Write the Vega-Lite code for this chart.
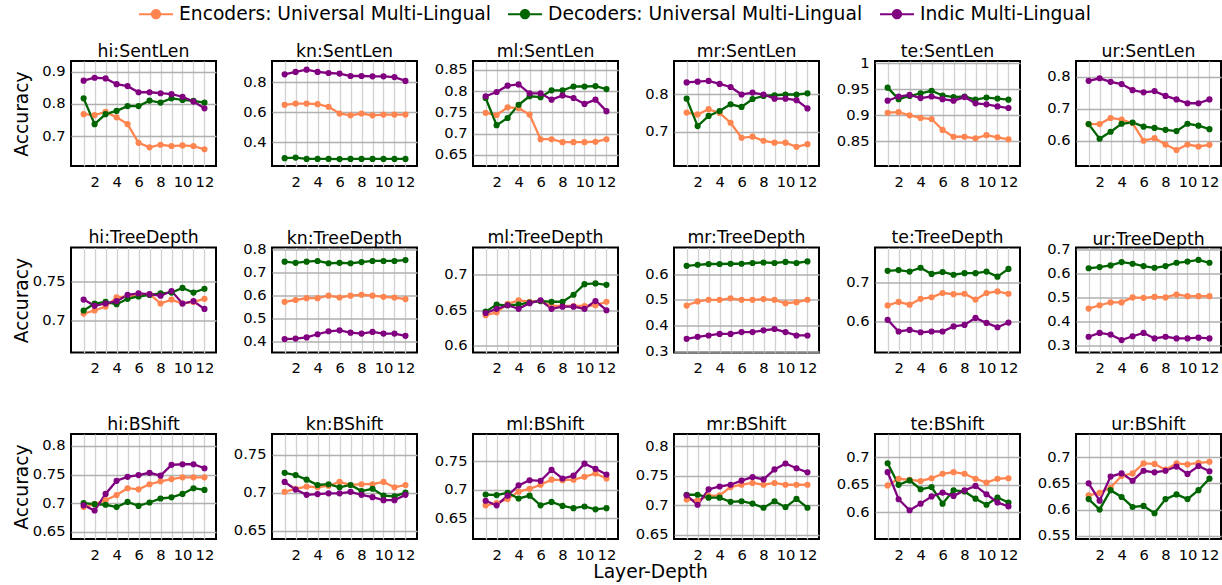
{
"$schema": "https://vega.github.io/schema/vega-lite/v6.json",
"padding": {"left": 10, "top": -3, "right": 0, "bottom": 0},
"data": {"values": [
{"panel":"hi:SentLen","model":"Encoders: Universal Multi-Lingual","layer":1,"accuracy":0.768},
{"panel":"hi:SentLen","model":"Encoders: Universal Multi-Lingual","layer":2,"accuracy":0.765},
{"panel":"hi:SentLen","model":"Encoders: Universal Multi-Lingual","layer":3,"accuracy":0.775},
{"panel":"hi:SentLen","model":"Encoders: Universal Multi-Lingual","layer":4,"accuracy":0.758},
{"panel":"hi:SentLen","model":"Encoders: Universal Multi-Lingual","layer":5,"accuracy":0.737},
{"panel":"hi:SentLen","model":"Encoders: Universal Multi-Lingual","layer":6,"accuracy":0.679},
{"panel":"hi:SentLen","model":"Encoders: Universal Multi-Lingual","layer":7,"accuracy":0.665},
{"panel":"hi:SentLen","model":"Encoders: Universal Multi-Lingual","layer":8,"accuracy":0.673},
{"panel":"hi:SentLen","model":"Encoders: Universal Multi-Lingual","layer":9,"accuracy":0.669},
{"panel":"hi:SentLen","model":"Encoders: Universal Multi-Lingual","layer":10,"accuracy":0.671},
{"panel":"hi:SentLen","model":"Encoders: Universal Multi-Lingual","layer":11,"accuracy":0.669},
{"panel":"hi:SentLen","model":"Encoders: Universal Multi-Lingual","layer":12,"accuracy":0.659},
{"panel":"hi:SentLen","model":"Decoders: Universal Multi-Lingual","layer":1,"accuracy":0.817},
{"panel":"hi:SentLen","model":"Decoders: Universal Multi-Lingual","layer":2,"accuracy":0.737},
{"panel":"hi:SentLen","model":"Decoders: Universal Multi-Lingual","layer":3,"accuracy":0.768},
{"panel":"hi:SentLen","model":"Decoders: Universal Multi-Lingual","layer":4,"accuracy":0.778},
{"panel":"hi:SentLen","model":"Decoders: Universal Multi-Lingual","layer":5,"accuracy":0.793},
{"panel":"hi:SentLen","model":"Decoders: Universal Multi-Lingual","layer":6,"accuracy":0.793},
{"panel":"hi:SentLen","model":"Decoders: Universal Multi-Lingual","layer":7,"accuracy":0.810},
{"panel":"hi:SentLen","model":"Decoders: Universal Multi-Lingual","layer":8,"accuracy":0.804},
{"panel":"hi:SentLen","model":"Decoders: Universal Multi-Lingual","layer":9,"accuracy":0.817},
{"panel":"hi:SentLen","model":"Decoders: Universal Multi-Lingual","layer":10,"accuracy":0.812},
{"panel":"hi:SentLen","model":"Decoders: Universal Multi-Lingual","layer":11,"accuracy":0.809},
{"panel":"hi:SentLen","model":"Decoders: Universal Multi-Lingual","layer":12,"accuracy":0.804},
{"panel":"hi:SentLen","model":"Indic Multi-Lingual","layer":1,"accuracy":0.872},
{"panel":"hi:SentLen","model":"Indic Multi-Lingual","layer":2,"accuracy":0.881},
{"panel":"hi:SentLen","model":"Indic Multi-Lingual","layer":3,"accuracy":0.879},
{"panel":"hi:SentLen","model":"Indic Multi-Lingual","layer":4,"accuracy":0.861},
{"panel":"hi:SentLen","model":"Indic Multi-Lingual","layer":5,"accuracy":0.855},
{"panel":"hi:SentLen","model":"Indic Multi-Lingual","layer":6,"accuracy":0.836},
{"panel":"hi:SentLen","model":"Indic Multi-Lingual","layer":7,"accuracy":0.836},
{"panel":"hi:SentLen","model":"Indic Multi-Lingual","layer":8,"accuracy":0.833},
{"panel":"hi:SentLen","model":"Indic Multi-Lingual","layer":9,"accuracy":0.830},
{"panel":"hi:SentLen","model":"Indic Multi-Lingual","layer":10,"accuracy":0.822},
{"panel":"hi:SentLen","model":"Indic Multi-Lingual","layer":11,"accuracy":0.807},
{"panel":"hi:SentLen","model":"Indic Multi-Lingual","layer":12,"accuracy":0.786},
{"panel":"kn:SentLen","model":"Encoders: Universal Multi-Lingual","layer":1,"accuracy":0.648},
{"panel":"kn:SentLen","model":"Encoders: Universal Multi-Lingual","layer":2,"accuracy":0.656},
{"panel":"kn:SentLen","model":"Encoders: Universal Multi-Lingual","layer":3,"accuracy":0.656},
{"panel":"kn:SentLen","model":"Encoders: Universal Multi-Lingual","layer":4,"accuracy":0.652},
{"panel":"kn:SentLen","model":"Encoders: Universal Multi-Lingual","layer":5,"accuracy":0.635},
{"panel":"kn:SentLen","model":"Encoders: Universal Multi-Lingual","layer":6,"accuracy":0.590},
{"panel":"kn:SentLen","model":"Encoders: Universal Multi-Lingual","layer":7,"accuracy":0.578},
{"panel":"kn:SentLen","model":"Encoders: Universal Multi-Lingual","layer":8,"accuracy":0.590},
{"panel":"kn:SentLen","model":"Encoders: Universal Multi-Lingual","layer":9,"accuracy":0.578},
{"panel":"kn:SentLen","model":"Encoders: Universal Multi-Lingual","layer":10,"accuracy":0.583},
{"panel":"kn:SentLen","model":"Encoders: Universal Multi-Lingual","layer":11,"accuracy":0.583},
{"panel":"kn:SentLen","model":"Encoders: Universal Multi-Lingual","layer":12,"accuracy":0.583},
{"panel":"kn:SentLen","model":"Decoders: Universal Multi-Lingual","layer":1,"accuracy":0.292},
{"panel":"kn:SentLen","model":"Decoders: Universal Multi-Lingual","layer":2,"accuracy":0.296},
{"panel":"kn:SentLen","model":"Decoders: Universal Multi-Lingual","layer":3,"accuracy":0.287},
{"panel":"kn:SentLen","model":"Decoders: Universal Multi-Lingual","layer":4,"accuracy":0.287},
{"panel":"kn:SentLen","model":"Decoders: Universal Multi-Lingual","layer":5,"accuracy":0.287},
{"panel":"kn:SentLen","model":"Decoders: Universal Multi-Lingual","layer":6,"accuracy":0.286},
{"panel":"kn:SentLen","model":"Decoders: Universal Multi-Lingual","layer":7,"accuracy":0.287},
{"panel":"kn:SentLen","model":"Decoders: Universal Multi-Lingual","layer":8,"accuracy":0.287},
{"panel":"kn:SentLen","model":"Decoders: Universal Multi-Lingual","layer":9,"accuracy":0.287},
{"panel":"kn:SentLen","model":"Decoders: Universal Multi-Lingual","layer":10,"accuracy":0.287},
{"panel":"kn:SentLen","model":"Decoders: Universal Multi-Lingual","layer":11,"accuracy":0.287},
{"panel":"kn:SentLen","model":"Decoders: Universal Multi-Lingual","layer":12,"accuracy":0.287},
{"panel":"kn:SentLen","model":"Indic Multi-Lingual","layer":1,"accuracy":0.851},
{"panel":"kn:SentLen","model":"Indic Multi-Lingual","layer":2,"accuracy":0.867},
{"panel":"kn:SentLen","model":"Indic Multi-Lingual","layer":3,"accuracy":0.882},
{"panel":"kn:SentLen","model":"Indic Multi-Lingual","layer":4,"accuracy":0.867},
{"panel":"kn:SentLen","model":"Indic Multi-Lingual","layer":5,"accuracy":0.860},
{"panel":"kn:SentLen","model":"Indic Multi-Lingual","layer":6,"accuracy":0.856},
{"panel":"kn:SentLen","model":"Indic Multi-Lingual","layer":7,"accuracy":0.840},
{"panel":"kn:SentLen","model":"Indic Multi-Lingual","layer":8,"accuracy":0.840},
{"panel":"kn:SentLen","model":"Indic Multi-Lingual","layer":9,"accuracy":0.838},
{"panel":"kn:SentLen","model":"Indic Multi-Lingual","layer":10,"accuracy":0.838},
{"panel":"kn:SentLen","model":"Indic Multi-Lingual","layer":11,"accuracy":0.833},
{"panel":"kn:SentLen","model":"Indic Multi-Lingual","layer":12,"accuracy":0.807},
{"panel":"ml:SentLen","model":"Encoders: Universal Multi-Lingual","layer":1,"accuracy":0.749},
{"panel":"ml:SentLen","model":"Encoders: Universal Multi-Lingual","layer":2,"accuracy":0.744},
{"panel":"ml:SentLen","model":"Encoders: Universal Multi-Lingual","layer":3,"accuracy":0.762},
{"panel":"ml:SentLen","model":"Encoders: Universal Multi-Lingual","layer":4,"accuracy":0.760},
{"panel":"ml:SentLen","model":"Encoders: Universal Multi-Lingual","layer":5,"accuracy":0.745},
{"panel":"ml:SentLen","model":"Encoders: Universal Multi-Lingual","layer":6,"accuracy":0.687},
{"panel":"ml:SentLen","model":"Encoders: Universal Multi-Lingual","layer":7,"accuracy":0.687},
{"panel":"ml:SentLen","model":"Encoders: Universal Multi-Lingual","layer":8,"accuracy":0.680},
{"panel":"ml:SentLen","model":"Encoders: Universal Multi-Lingual","layer":9,"accuracy":0.680},
{"panel":"ml:SentLen","model":"Encoders: Universal Multi-Lingual","layer":10,"accuracy":0.680},
{"panel":"ml:SentLen","model":"Encoders: Universal Multi-Lingual","layer":11,"accuracy":0.681},
{"panel":"ml:SentLen","model":"Encoders: Universal Multi-Lingual","layer":12,"accuracy":0.687},
{"panel":"ml:SentLen","model":"Decoders: Universal Multi-Lingual","layer":1,"accuracy":0.784},
{"panel":"ml:SentLen","model":"Decoders: Universal Multi-Lingual","layer":2,"accuracy":0.720},
{"panel":"ml:SentLen","model":"Decoders: Universal Multi-Lingual","layer":3,"accuracy":0.737},
{"panel":"ml:SentLen","model":"Decoders: Universal Multi-Lingual","layer":4,"accuracy":0.768},
{"panel":"ml:SentLen","model":"Decoders: Universal Multi-Lingual","layer":5,"accuracy":0.788},
{"panel":"ml:SentLen","model":"Decoders: Universal Multi-Lingual","layer":6,"accuracy":0.786},
{"panel":"ml:SentLen","model":"Decoders: Universal Multi-Lingual","layer":7,"accuracy":0.802},
{"panel":"ml:SentLen","model":"Decoders: Universal Multi-Lingual","layer":8,"accuracy":0.802},
{"panel":"ml:SentLen","model":"Decoders: Universal Multi-Lingual","layer":9,"accuracy":0.811},
{"panel":"ml:SentLen","model":"Decoders: Universal Multi-Lingual","layer":10,"accuracy":0.811},
{"panel":"ml:SentLen","model":"Decoders: Universal Multi-Lingual","layer":11,"accuracy":0.812},
{"panel":"ml:SentLen","model":"Decoders: Universal Multi-Lingual","layer":12,"accuracy":0.805},
{"panel":"ml:SentLen","model":"Indic Multi-Lingual","layer":1,"accuracy":0.788},
{"panel":"ml:SentLen","model":"Indic Multi-Lingual","layer":2,"accuracy":0.798},
{"panel":"ml:SentLen","model":"Indic Multi-Lingual","layer":3,"accuracy":0.813},
{"panel":"ml:SentLen","model":"Indic Multi-Lingual","layer":4,"accuracy":0.816},
{"panel":"ml:SentLen","model":"Indic Multi-Lingual","layer":5,"accuracy":0.795},
{"panel":"ml:SentLen","model":"Indic Multi-Lingual","layer":6,"accuracy":0.795},
{"panel":"ml:SentLen","model":"Indic Multi-Lingual","layer":7,"accuracy":0.780},
{"panel":"ml:SentLen","model":"Indic Multi-Lingual","layer":8,"accuracy":0.790},
{"panel":"ml:SentLen","model":"Indic Multi-Lingual","layer":9,"accuracy":0.784},
{"panel":"ml:SentLen","model":"Indic Multi-Lingual","layer":10,"accuracy":0.770},
{"panel":"ml:SentLen","model":"Indic Multi-Lingual","layer":11,"accuracy":0.780},
{"panel":"ml:SentLen","model":"Indic Multi-Lingual","layer":12,"accuracy":0.753},
{"panel":"mr:SentLen","model":"Encoders: Universal Multi-Lingual","layer":1,"accuracy":0.751},
{"panel":"mr:SentLen","model":"Encoders: Universal Multi-Lingual","layer":2,"accuracy":0.746},
{"panel":"mr:SentLen","model":"Encoders: Universal Multi-Lingual","layer":3,"accuracy":0.760},
{"panel":"mr:SentLen","model":"Encoders: Universal Multi-Lingual","layer":4,"accuracy":0.750},
{"panel":"mr:SentLen","model":"Encoders: Universal Multi-Lingual","layer":5,"accuracy":0.724},
{"panel":"mr:SentLen","model":"Encoders: Universal Multi-Lingual","layer":6,"accuracy":0.684},
{"panel":"mr:SentLen","model":"Encoders: Universal Multi-Lingual","layer":7,"accuracy":0.687},
{"panel":"mr:SentLen","model":"Encoders: Universal Multi-Lingual","layer":8,"accuracy":0.676},
{"panel":"mr:SentLen","model":"Encoders: Universal Multi-Lingual","layer":9,"accuracy":0.671},
{"panel":"mr:SentLen","model":"Encoders: Universal Multi-Lingual","layer":10,"accuracy":0.671},
{"panel":"mr:SentLen","model":"Encoders: Universal Multi-Lingual","layer":11,"accuracy":0.660},
{"panel":"mr:SentLen","model":"Encoders: Universal Multi-Lingual","layer":12,"accuracy":0.667},
{"panel":"mr:SentLen","model":"Decoders: Universal Multi-Lingual","layer":1,"accuracy":0.788},
{"panel":"mr:SentLen","model":"Decoders: Universal Multi-Lingual","layer":2,"accuracy":0.715},
{"panel":"mr:SentLen","model":"Decoders: Universal Multi-Lingual","layer":3,"accuracy":0.742},
{"panel":"mr:SentLen","model":"Decoders: Universal Multi-Lingual","layer":4,"accuracy":0.755},
{"panel":"mr:SentLen","model":"Decoders: Universal Multi-Lingual","layer":5,"accuracy":0.773},
{"panel":"mr:SentLen","model":"Decoders: Universal Multi-Lingual","layer":6,"accuracy":0.766},
{"panel":"mr:SentLen","model":"Decoders: Universal Multi-Lingual","layer":7,"accuracy":0.787},
{"panel":"mr:SentLen","model":"Decoders: Universal Multi-Lingual","layer":8,"accuracy":0.795},
{"panel":"mr:SentLen","model":"Decoders: Universal Multi-Lingual","layer":9,"accuracy":0.797},
{"panel":"mr:SentLen","model":"Decoders: Universal Multi-Lingual","layer":10,"accuracy":0.799},
{"panel":"mr:SentLen","model":"Decoders: Universal Multi-Lingual","layer":11,"accuracy":0.799},
{"panel":"mr:SentLen","model":"Decoders: Universal Multi-Lingual","layer":12,"accuracy":0.802},
{"panel":"mr:SentLen","model":"Indic Multi-Lingual","layer":1,"accuracy":0.831},
{"panel":"mr:SentLen","model":"Indic Multi-Lingual","layer":2,"accuracy":0.833},
{"panel":"mr:SentLen","model":"Indic Multi-Lingual","layer":3,"accuracy":0.835},
{"panel":"mr:SentLen","model":"Indic Multi-Lingual","layer":4,"accuracy":0.827},
{"panel":"mr:SentLen","model":"Indic Multi-Lingual","layer":5,"accuracy":0.819},
{"panel":"mr:SentLen","model":"Indic Multi-Lingual","layer":6,"accuracy":0.799},
{"panel":"mr:SentLen","model":"Indic Multi-Lingual","layer":7,"accuracy":0.804},
{"panel":"mr:SentLen","model":"Indic Multi-Lingual","layer":8,"accuracy":0.799},
{"panel":"mr:SentLen","model":"Indic Multi-Lingual","layer":9,"accuracy":0.788},
{"panel":"mr:SentLen","model":"Indic Multi-Lingual","layer":10,"accuracy":0.788},
{"panel":"mr:SentLen","model":"Indic Multi-Lingual","layer":11,"accuracy":0.784},
{"panel":"mr:SentLen","model":"Indic Multi-Lingual","layer":12,"accuracy":0.762},
{"panel":"te:SentLen","model":"Encoders: Universal Multi-Lingual","layer":1,"accuracy":0.905},
{"panel":"te:SentLen","model":"Encoders: Universal Multi-Lingual","layer":2,"accuracy":0.906},
{"panel":"te:SentLen","model":"Encoders: Universal Multi-Lingual","layer":3,"accuracy":0.900},
{"panel":"te:SentLen","model":"Encoders: Universal Multi-Lingual","layer":4,"accuracy":0.895},
{"panel":"te:SentLen","model":"Encoders: Universal Multi-Lingual","layer":5,"accuracy":0.893},
{"panel":"te:SentLen","model":"Encoders: Universal Multi-Lingual","layer":6,"accuracy":0.872},
{"panel":"te:SentLen","model":"Encoders: Universal Multi-Lingual","layer":7,"accuracy":0.859},
{"panel":"te:SentLen","model":"Encoders: Universal Multi-Lingual","layer":8,"accuracy":0.859},
{"panel":"te:SentLen","model":"Encoders: Universal Multi-Lingual","layer":9,"accuracy":0.856},
{"panel":"te:SentLen","model":"Encoders: Universal Multi-Lingual","layer":10,"accuracy":0.862},
{"panel":"te:SentLen","model":"Encoders: Universal Multi-Lingual","layer":11,"accuracy":0.858},
{"panel":"te:SentLen","model":"Encoders: Universal Multi-Lingual","layer":12,"accuracy":0.854},
{"panel":"te:SentLen","model":"Decoders: Universal Multi-Lingual","layer":1,"accuracy":0.953},
{"panel":"te:SentLen","model":"Decoders: Universal Multi-Lingual","layer":2,"accuracy":0.931},
{"panel":"te:SentLen","model":"Decoders: Universal Multi-Lingual","layer":3,"accuracy":0.937},
{"panel":"te:SentLen","model":"Decoders: Universal Multi-Lingual","layer":4,"accuracy":0.942},
{"panel":"te:SentLen","model":"Decoders: Universal Multi-Lingual","layer":5,"accuracy":0.947},
{"panel":"te:SentLen","model":"Decoders: Universal Multi-Lingual","layer":6,"accuracy":0.938},
{"panel":"te:SentLen","model":"Decoders: Universal Multi-Lingual","layer":7,"accuracy":0.935},
{"panel":"te:SentLen","model":"Decoders: Universal Multi-Lingual","layer":8,"accuracy":0.936},
{"panel":"te:SentLen","model":"Decoders: Universal Multi-Lingual","layer":9,"accuracy":0.930},
{"panel":"te:SentLen","model":"Decoders: Universal Multi-Lingual","layer":10,"accuracy":0.934},
{"panel":"te:SentLen","model":"Decoders: Universal Multi-Lingual","layer":11,"accuracy":0.932},
{"panel":"te:SentLen","model":"Decoders: Universal Multi-Lingual","layer":12,"accuracy":0.930},
{"panel":"te:SentLen","model":"Indic Multi-Lingual","layer":1,"accuracy":0.928},
{"panel":"te:SentLen","model":"Indic Multi-Lingual","layer":2,"accuracy":0.936},
{"panel":"te:SentLen","model":"Indic Multi-Lingual","layer":3,"accuracy":0.939},
{"panel":"te:SentLen","model":"Indic Multi-Lingual","layer":4,"accuracy":0.933},
{"panel":"te:SentLen","model":"Indic Multi-Lingual","layer":5,"accuracy":0.936},
{"panel":"te:SentLen","model":"Indic Multi-Lingual","layer":6,"accuracy":0.931},
{"panel":"te:SentLen","model":"Indic Multi-Lingual","layer":7,"accuracy":0.928},
{"panel":"te:SentLen","model":"Indic Multi-Lingual","layer":8,"accuracy":0.935},
{"panel":"te:SentLen","model":"Indic Multi-Lingual","layer":9,"accuracy":0.923},
{"panel":"te:SentLen","model":"Indic Multi-Lingual","layer":10,"accuracy":0.921},
{"panel":"te:SentLen","model":"Indic Multi-Lingual","layer":11,"accuracy":0.917},
{"panel":"te:SentLen","model":"Indic Multi-Lingual","layer":12,"accuracy":0.914},
{"panel":"ur:SentLen","model":"Encoders: Universal Multi-Lingual","layer":1,"accuracy":0.652},
{"panel":"ur:SentLen","model":"Encoders: Universal Multi-Lingual","layer":2,"accuracy":0.652},
{"panel":"ur:SentLen","model":"Encoders: Universal Multi-Lingual","layer":3,"accuracy":0.671},
{"panel":"ur:SentLen","model":"Encoders: Universal Multi-Lingual","layer":4,"accuracy":0.666},
{"panel":"ur:SentLen","model":"Encoders: Universal Multi-Lingual","layer":5,"accuracy":0.655},
{"panel":"ur:SentLen","model":"Encoders: Universal Multi-Lingual","layer":6,"accuracy":0.600},
{"panel":"ur:SentLen","model":"Encoders: Universal Multi-Lingual","layer":7,"accuracy":0.608},
{"panel":"ur:SentLen","model":"Encoders: Universal Multi-Lingual","layer":8,"accuracy":0.588},
{"panel":"ur:SentLen","model":"Encoders: Universal Multi-Lingual","layer":9,"accuracy":0.571},
{"panel":"ur:SentLen","model":"Encoders: Universal Multi-Lingual","layer":10,"accuracy":0.588},
{"panel":"ur:SentLen","model":"Encoders: Universal Multi-Lingual","layer":11,"accuracy":0.582},
{"panel":"ur:SentLen","model":"Encoders: Universal Multi-Lingual","layer":12,"accuracy":0.587},
{"panel":"ur:SentLen","model":"Decoders: Universal Multi-Lingual","layer":1,"accuracy":0.652},
{"panel":"ur:SentLen","model":"Decoders: Universal Multi-Lingual","layer":2,"accuracy":0.606},
{"panel":"ur:SentLen","model":"Decoders: Universal Multi-Lingual","layer":3,"accuracy":0.628},
{"panel":"ur:SentLen","model":"Decoders: Universal Multi-Lingual","layer":4,"accuracy":0.653},
{"panel":"ur:SentLen","model":"Decoders: Universal Multi-Lingual","layer":5,"accuracy":0.657},
{"panel":"ur:SentLen","model":"Decoders: Universal Multi-Lingual","layer":6,"accuracy":0.644},
{"panel":"ur:SentLen","model":"Decoders: Universal Multi-Lingual","layer":7,"accuracy":0.640},
{"panel":"ur:SentLen","model":"Decoders: Universal Multi-Lingual","layer":8,"accuracy":0.634},
{"panel":"ur:SentLen","model":"Decoders: Universal Multi-Lingual","layer":9,"accuracy":0.630},
{"panel":"ur:SentLen","model":"Decoders: Universal Multi-Lingual","layer":10,"accuracy":0.653},
{"panel":"ur:SentLen","model":"Decoders: Universal Multi-Lingual","layer":11,"accuracy":0.647},
{"panel":"ur:SentLen","model":"Decoders: Universal Multi-Lingual","layer":12,"accuracy":0.636},
{"panel":"ur:SentLen","model":"Indic Multi-Lingual","layer":1,"accuracy":0.787},
{"panel":"ur:SentLen","model":"Indic Multi-Lingual","layer":2,"accuracy":0.795},
{"panel":"ur:SentLen","model":"Indic Multi-Lingual","layer":3,"accuracy":0.784},
{"panel":"ur:SentLen","model":"Indic Multi-Lingual","layer":4,"accuracy":0.777},
{"panel":"ur:SentLen","model":"Indic Multi-Lingual","layer":5,"accuracy":0.758},
{"panel":"ur:SentLen","model":"Indic Multi-Lingual","layer":6,"accuracy":0.751},
{"panel":"ur:SentLen","model":"Indic Multi-Lingual","layer":7,"accuracy":0.755},
{"panel":"ur:SentLen","model":"Indic Multi-Lingual","layer":8,"accuracy":0.740},
{"panel":"ur:SentLen","model":"Indic Multi-Lingual","layer":9,"accuracy":0.729},
{"panel":"ur:SentLen","model":"Indic Multi-Lingual","layer":10,"accuracy":0.717},
{"panel":"ur:SentLen","model":"Indic Multi-Lingual","layer":11,"accuracy":0.717},
{"panel":"ur:SentLen","model":"Indic Multi-Lingual","layer":12,"accuracy":0.729},
{"panel":"hi:TreeDepth","model":"Encoders: Universal Multi-Lingual","layer":1,"accuracy":0.709},
{"panel":"hi:TreeDepth","model":"Encoders: Universal Multi-Lingual","layer":2,"accuracy":0.713},
{"panel":"hi:TreeDepth","model":"Encoders: Universal Multi-Lingual","layer":3,"accuracy":0.718},
{"panel":"hi:TreeDepth","model":"Encoders: Universal Multi-Lingual","layer":4,"accuracy":0.730},
{"panel":"hi:TreeDepth","model":"Encoders: Universal Multi-Lingual","layer":5,"accuracy":0.731},
{"panel":"hi:TreeDepth","model":"Encoders: Universal Multi-Lingual","layer":6,"accuracy":0.733},
{"panel":"hi:TreeDepth","model":"Encoders: Universal Multi-Lingual","layer":7,"accuracy":0.734},
{"panel":"hi:TreeDepth","model":"Encoders: Universal Multi-Lingual","layer":8,"accuracy":0.722},
{"panel":"hi:TreeDepth","model":"Encoders: Universal Multi-Lingual","layer":9,"accuracy":0.727},
{"panel":"hi:TreeDepth","model":"Encoders: Universal Multi-Lingual","layer":10,"accuracy":0.722},
{"panel":"hi:TreeDepth","model":"Encoders: Universal Multi-Lingual","layer":11,"accuracy":0.724},
{"panel":"hi:TreeDepth","model":"Encoders: Universal Multi-Lingual","layer":12,"accuracy":0.728},
{"panel":"hi:TreeDepth","model":"Decoders: Universal Multi-Lingual","layer":1,"accuracy":0.713},
{"panel":"hi:TreeDepth","model":"Decoders: Universal Multi-Lingual","layer":2,"accuracy":0.722},
{"panel":"hi:TreeDepth","model":"Decoders: Universal Multi-Lingual","layer":3,"accuracy":0.724},
{"panel":"hi:TreeDepth","model":"Decoders: Universal Multi-Lingual","layer":4,"accuracy":0.721},
{"panel":"hi:TreeDepth","model":"Decoders: Universal Multi-Lingual","layer":5,"accuracy":0.728},
{"panel":"hi:TreeDepth","model":"Decoders: Universal Multi-Lingual","layer":6,"accuracy":0.731},
{"panel":"hi:TreeDepth","model":"Decoders: Universal Multi-Lingual","layer":7,"accuracy":0.733},
{"panel":"hi:TreeDepth","model":"Decoders: Universal Multi-Lingual","layer":8,"accuracy":0.735},
{"panel":"hi:TreeDepth","model":"Decoders: Universal Multi-Lingual","layer":9,"accuracy":0.736},
{"panel":"hi:TreeDepth","model":"Decoders: Universal Multi-Lingual","layer":10,"accuracy":0.742},
{"panel":"hi:TreeDepth","model":"Decoders: Universal Multi-Lingual","layer":11,"accuracy":0.736},
{"panel":"hi:TreeDepth","model":"Decoders: Universal Multi-Lingual","layer":12,"accuracy":0.741},
{"panel":"hi:TreeDepth","model":"Indic Multi-Lingual","layer":1,"accuracy":0.727},
{"panel":"hi:TreeDepth","model":"Indic Multi-Lingual","layer":2,"accuracy":0.719},
{"panel":"hi:TreeDepth","model":"Indic Multi-Lingual","layer":3,"accuracy":0.722},
{"panel":"hi:TreeDepth","model":"Indic Multi-Lingual","layer":4,"accuracy":0.725},
{"panel":"hi:TreeDepth","model":"Indic Multi-Lingual","layer":5,"accuracy":0.733},
{"panel":"hi:TreeDepth","model":"Indic Multi-Lingual","layer":6,"accuracy":0.735},
{"panel":"hi:TreeDepth","model":"Indic Multi-Lingual","layer":7,"accuracy":0.734},
{"panel":"hi:TreeDepth","model":"Indic Multi-Lingual","layer":8,"accuracy":0.732},
{"panel":"hi:TreeDepth","model":"Indic Multi-Lingual","layer":9,"accuracy":0.738},
{"panel":"hi:TreeDepth","model":"Indic Multi-Lingual","layer":10,"accuracy":0.722},
{"panel":"hi:TreeDepth","model":"Indic Multi-Lingual","layer":11,"accuracy":0.725},
{"panel":"hi:TreeDepth","model":"Indic Multi-Lingual","layer":12,"accuracy":0.715},
{"panel":"kn:TreeDepth","model":"Encoders: Universal Multi-Lingual","layer":1,"accuracy":0.572},
{"panel":"kn:TreeDepth","model":"Encoders: Universal Multi-Lingual","layer":2,"accuracy":0.580},
{"panel":"kn:TreeDepth","model":"Encoders: Universal Multi-Lingual","layer":3,"accuracy":0.588},
{"panel":"kn:TreeDepth","model":"Encoders: Universal Multi-Lingual","layer":4,"accuracy":0.588},
{"panel":"kn:TreeDepth","model":"Encoders: Universal Multi-Lingual","layer":5,"accuracy":0.599},
{"panel":"kn:TreeDepth","model":"Encoders: Universal Multi-Lingual","layer":6,"accuracy":0.591},
{"panel":"kn:TreeDepth","model":"Encoders: Universal Multi-Lingual","layer":7,"accuracy":0.599},
{"panel":"kn:TreeDepth","model":"Encoders: Universal Multi-Lingual","layer":8,"accuracy":0.603},
{"panel":"kn:TreeDepth","model":"Encoders: Universal Multi-Lingual","layer":9,"accuracy":0.599},
{"panel":"kn:TreeDepth","model":"Encoders: Universal Multi-Lingual","layer":10,"accuracy":0.594},
{"panel":"kn:TreeDepth","model":"Encoders: Universal Multi-Lingual","layer":11,"accuracy":0.591},
{"panel":"kn:TreeDepth","model":"Encoders: Universal Multi-Lingual","layer":12,"accuracy":0.584},
{"panel":"kn:TreeDepth","model":"Decoders: Universal Multi-Lingual","layer":1,"accuracy":0.748},
{"panel":"kn:TreeDepth","model":"Decoders: Universal Multi-Lingual","layer":2,"accuracy":0.743},
{"panel":"kn:TreeDepth","model":"Decoders: Universal Multi-Lingual","layer":3,"accuracy":0.748},
{"panel":"kn:TreeDepth","model":"Decoders: Universal Multi-Lingual","layer":4,"accuracy":0.751},
{"panel":"kn:TreeDepth","model":"Decoders: Universal Multi-Lingual","layer":5,"accuracy":0.741},
{"panel":"kn:TreeDepth","model":"Decoders: Universal Multi-Lingual","layer":6,"accuracy":0.743},
{"panel":"kn:TreeDepth","model":"Decoders: Universal Multi-Lingual","layer":7,"accuracy":0.741},
{"panel":"kn:TreeDepth","model":"Decoders: Universal Multi-Lingual","layer":8,"accuracy":0.746},
{"panel":"kn:TreeDepth","model":"Decoders: Universal Multi-Lingual","layer":9,"accuracy":0.751},
{"panel":"kn:TreeDepth","model":"Decoders: Universal Multi-Lingual","layer":10,"accuracy":0.751},
{"panel":"kn:TreeDepth","model":"Decoders: Universal Multi-Lingual","layer":11,"accuracy":0.751},
{"panel":"kn:TreeDepth","model":"Decoders: Universal Multi-Lingual","layer":12,"accuracy":0.755},
{"panel":"kn:TreeDepth","model":"Indic Multi-Lingual","layer":1,"accuracy":0.409},
{"panel":"kn:TreeDepth","model":"Indic Multi-Lingual","layer":2,"accuracy":0.411},
{"panel":"kn:TreeDepth","model":"Indic Multi-Lingual","layer":3,"accuracy":0.416},
{"panel":"kn:TreeDepth","model":"Indic Multi-Lingual","layer":4,"accuracy":0.430},
{"panel":"kn:TreeDepth","model":"Indic Multi-Lingual","layer":5,"accuracy":0.443},
{"panel":"kn:TreeDepth","model":"Indic Multi-Lingual","layer":6,"accuracy":0.447},
{"panel":"kn:TreeDepth","model":"Indic Multi-Lingual","layer":7,"accuracy":0.437},
{"panel":"kn:TreeDepth","model":"Indic Multi-Lingual","layer":8,"accuracy":0.433},
{"panel":"kn:TreeDepth","model":"Indic Multi-Lingual","layer":9,"accuracy":0.440},
{"panel":"kn:TreeDepth","model":"Indic Multi-Lingual","layer":10,"accuracy":0.433},
{"panel":"kn:TreeDepth","model":"Indic Multi-Lingual","layer":11,"accuracy":0.433},
{"panel":"kn:TreeDepth","model":"Indic Multi-Lingual","layer":12,"accuracy":0.423},
{"panel":"ml:TreeDepth","model":"Encoders: Universal Multi-Lingual","layer":1,"accuracy":0.643},
{"panel":"ml:TreeDepth","model":"Encoders: Universal Multi-Lingual","layer":2,"accuracy":0.647},
{"panel":"ml:TreeDepth","model":"Encoders: Universal Multi-Lingual","layer":3,"accuracy":0.659},
{"panel":"ml:TreeDepth","model":"Encoders: Universal Multi-Lingual","layer":4,"accuracy":0.664},
{"panel":"ml:TreeDepth","model":"Encoders: Universal Multi-Lingual","layer":5,"accuracy":0.662},
{"panel":"ml:TreeDepth","model":"Encoders: Universal Multi-Lingual","layer":6,"accuracy":0.663},
{"panel":"ml:TreeDepth","model":"Encoders: Universal Multi-Lingual","layer":7,"accuracy":0.656},
{"panel":"ml:TreeDepth","model":"Encoders: Universal Multi-Lingual","layer":8,"accuracy":0.656},
{"panel":"ml:TreeDepth","model":"Encoders: Universal Multi-Lingual","layer":9,"accuracy":0.656},
{"panel":"ml:TreeDepth","model":"Encoders: Universal Multi-Lingual","layer":10,"accuracy":0.656},
{"panel":"ml:TreeDepth","model":"Encoders: Universal Multi-Lingual","layer":11,"accuracy":0.657},
{"panel":"ml:TreeDepth","model":"Encoders: Universal Multi-Lingual","layer":12,"accuracy":0.662},
{"panel":"ml:TreeDepth","model":"Decoders: Universal Multi-Lingual","layer":1,"accuracy":0.648},
{"panel":"ml:TreeDepth","model":"Decoders: Universal Multi-Lingual","layer":2,"accuracy":0.658},
{"panel":"ml:TreeDepth","model":"Decoders: Universal Multi-Lingual","layer":3,"accuracy":0.657},
{"panel":"ml:TreeDepth","model":"Decoders: Universal Multi-Lingual","layer":4,"accuracy":0.658},
{"panel":"ml:TreeDepth","model":"Decoders: Universal Multi-Lingual","layer":5,"accuracy":0.661},
{"panel":"ml:TreeDepth","model":"Decoders: Universal Multi-Lingual","layer":6,"accuracy":0.663},
{"panel":"ml:TreeDepth","model":"Decoders: Universal Multi-Lingual","layer":7,"accuracy":0.662},
{"panel":"ml:TreeDepth","model":"Decoders: Universal Multi-Lingual","layer":8,"accuracy":0.662},
{"panel":"ml:TreeDepth","model":"Decoders: Universal Multi-Lingual","layer":9,"accuracy":0.672},
{"panel":"ml:TreeDepth","model":"Decoders: Universal Multi-Lingual","layer":10,"accuracy":0.687},
{"panel":"ml:TreeDepth","model":"Decoders: Universal Multi-Lingual","layer":11,"accuracy":0.688},
{"panel":"ml:TreeDepth","model":"Decoders: Universal Multi-Lingual","layer":12,"accuracy":0.686},
{"panel":"ml:TreeDepth","model":"Indic Multi-Lingual","layer":1,"accuracy":0.646},
{"panel":"ml:TreeDepth","model":"Indic Multi-Lingual","layer":2,"accuracy":0.652},
{"panel":"ml:TreeDepth","model":"Indic Multi-Lingual","layer":3,"accuracy":0.657},
{"panel":"ml:TreeDepth","model":"Indic Multi-Lingual","layer":4,"accuracy":0.652},
{"panel":"ml:TreeDepth","model":"Indic Multi-Lingual","layer":5,"accuracy":0.660},
{"panel":"ml:TreeDepth","model":"Indic Multi-Lingual","layer":6,"accuracy":0.664},
{"panel":"ml:TreeDepth","model":"Indic Multi-Lingual","layer":7,"accuracy":0.652},
{"panel":"ml:TreeDepth","model":"Indic Multi-Lingual","layer":8,"accuracy":0.655},
{"panel":"ml:TreeDepth","model":"Indic Multi-Lingual","layer":9,"accuracy":0.655},
{"panel":"ml:TreeDepth","model":"Indic Multi-Lingual","layer":10,"accuracy":0.652},
{"panel":"ml:TreeDepth","model":"Indic Multi-Lingual","layer":11,"accuracy":0.663},
{"panel":"ml:TreeDepth","model":"Indic Multi-Lingual","layer":12,"accuracy":0.650},
{"panel":"mr:TreeDepth","model":"Encoders: Universal Multi-Lingual","layer":1,"accuracy":0.478},
{"panel":"mr:TreeDepth","model":"Encoders: Universal Multi-Lingual","layer":2,"accuracy":0.494},
{"panel":"mr:TreeDepth","model":"Encoders: Universal Multi-Lingual","layer":3,"accuracy":0.500},
{"panel":"mr:TreeDepth","model":"Encoders: Universal Multi-Lingual","layer":4,"accuracy":0.500},
{"panel":"mr:TreeDepth","model":"Encoders: Universal Multi-Lingual","layer":5,"accuracy":0.506},
{"panel":"mr:TreeDepth","model":"Encoders: Universal Multi-Lingual","layer":6,"accuracy":0.500},
{"panel":"mr:TreeDepth","model":"Encoders: Universal Multi-Lingual","layer":7,"accuracy":0.500},
{"panel":"mr:TreeDepth","model":"Encoders: Universal Multi-Lingual","layer":8,"accuracy":0.503},
{"panel":"mr:TreeDepth","model":"Encoders: Universal Multi-Lingual","layer":9,"accuracy":0.500},
{"panel":"mr:TreeDepth","model":"Encoders: Universal Multi-Lingual","layer":10,"accuracy":0.487},
{"panel":"mr:TreeDepth","model":"Encoders: Universal Multi-Lingual","layer":11,"accuracy":0.491},
{"panel":"mr:TreeDepth","model":"Encoders: Universal Multi-Lingual","layer":12,"accuracy":0.500},
{"panel":"mr:TreeDepth","model":"Decoders: Universal Multi-Lingual","layer":1,"accuracy":0.632},
{"panel":"mr:TreeDepth","model":"Decoders: Universal Multi-Lingual","layer":2,"accuracy":0.636},
{"panel":"mr:TreeDepth","model":"Decoders: Universal Multi-Lingual","layer":3,"accuracy":0.639},
{"panel":"mr:TreeDepth","model":"Decoders: Universal Multi-Lingual","layer":4,"accuracy":0.639},
{"panel":"mr:TreeDepth","model":"Decoders: Universal Multi-Lingual","layer":5,"accuracy":0.640},
{"panel":"mr:TreeDepth","model":"Decoders: Universal Multi-Lingual","layer":6,"accuracy":0.640},
{"panel":"mr:TreeDepth","model":"Decoders: Universal Multi-Lingual","layer":7,"accuracy":0.643},
{"panel":"mr:TreeDepth","model":"Decoders: Universal Multi-Lingual","layer":8,"accuracy":0.645},
{"panel":"mr:TreeDepth","model":"Decoders: Universal Multi-Lingual","layer":9,"accuracy":0.643},
{"panel":"mr:TreeDepth","model":"Decoders: Universal Multi-Lingual","layer":10,"accuracy":0.647},
{"panel":"mr:TreeDepth","model":"Decoders: Universal Multi-Lingual","layer":11,"accuracy":0.643},
{"panel":"mr:TreeDepth","model":"Decoders: Universal Multi-Lingual","layer":12,"accuracy":0.649},
{"panel":"mr:TreeDepth","model":"Indic Multi-Lingual","layer":1,"accuracy":0.349},
{"panel":"mr:TreeDepth","model":"Indic Multi-Lingual","layer":2,"accuracy":0.357},
{"panel":"mr:TreeDepth","model":"Indic Multi-Lingual","layer":3,"accuracy":0.362},
{"panel":"mr:TreeDepth","model":"Indic Multi-Lingual","layer":4,"accuracy":0.368},
{"panel":"mr:TreeDepth","model":"Indic Multi-Lingual","layer":5,"accuracy":0.368},
{"panel":"mr:TreeDepth","model":"Indic Multi-Lingual","layer":6,"accuracy":0.375},
{"panel":"mr:TreeDepth","model":"Indic Multi-Lingual","layer":7,"accuracy":0.375},
{"panel":"mr:TreeDepth","model":"Indic Multi-Lingual","layer":8,"accuracy":0.382},
{"panel":"mr:TreeDepth","model":"Indic Multi-Lingual","layer":9,"accuracy":0.387},
{"panel":"mr:TreeDepth","model":"Indic Multi-Lingual","layer":10,"accuracy":0.375},
{"panel":"mr:TreeDepth","model":"Indic Multi-Lingual","layer":11,"accuracy":0.362},
{"panel":"mr:TreeDepth","model":"Indic Multi-Lingual","layer":12,"accuracy":0.362},
{"panel":"te:TreeDepth","model":"Encoders: Universal Multi-Lingual","layer":1,"accuracy":0.641},
{"panel":"te:TreeDepth","model":"Encoders: Universal Multi-Lingual","layer":2,"accuracy":0.650},
{"panel":"te:TreeDepth","model":"Encoders: Universal Multi-Lingual","layer":3,"accuracy":0.643},
{"panel":"te:TreeDepth","model":"Encoders: Universal Multi-Lingual","layer":4,"accuracy":0.658},
{"panel":"te:TreeDepth","model":"Encoders: Universal Multi-Lingual","layer":5,"accuracy":0.662},
{"panel":"te:TreeDepth","model":"Encoders: Universal Multi-Lingual","layer":6,"accuracy":0.673},
{"panel":"te:TreeDepth","model":"Encoders: Universal Multi-Lingual","layer":7,"accuracy":0.670},
{"panel":"te:TreeDepth","model":"Encoders: Universal Multi-Lingual","layer":8,"accuracy":0.671},
{"panel":"te:TreeDepth","model":"Encoders: Universal Multi-Lingual","layer":9,"accuracy":0.656},
{"panel":"te:TreeDepth","model":"Encoders: Universal Multi-Lingual","layer":10,"accuracy":0.673},
{"panel":"te:TreeDepth","model":"Encoders: Universal Multi-Lingual","layer":11,"accuracy":0.677},
{"panel":"te:TreeDepth","model":"Encoders: Universal Multi-Lingual","layer":12,"accuracy":0.671},
{"panel":"te:TreeDepth","model":"Decoders: Universal Multi-Lingual","layer":1,"accuracy":0.730},
{"panel":"te:TreeDepth","model":"Decoders: Universal Multi-Lingual","layer":2,"accuracy":0.732},
{"panel":"te:TreeDepth","model":"Decoders: Universal Multi-Lingual","layer":3,"accuracy":0.728},
{"panel":"te:TreeDepth","model":"Decoders: Universal Multi-Lingual","layer":4,"accuracy":0.738},
{"panel":"te:TreeDepth","model":"Decoders: Universal Multi-Lingual","layer":5,"accuracy":0.722},
{"panel":"te:TreeDepth","model":"Decoders: Universal Multi-Lingual","layer":6,"accuracy":0.727},
{"panel":"te:TreeDepth","model":"Decoders: Universal Multi-Lingual","layer":7,"accuracy":0.720},
{"panel":"te:TreeDepth","model":"Decoders: Universal Multi-Lingual","layer":8,"accuracy":0.724},
{"panel":"te:TreeDepth","model":"Decoders: Universal Multi-Lingual","layer":9,"accuracy":0.724},
{"panel":"te:TreeDepth","model":"Decoders: Universal Multi-Lingual","layer":10,"accuracy":0.728},
{"panel":"te:TreeDepth","model":"Decoders: Universal Multi-Lingual","layer":11,"accuracy":0.715},
{"panel":"te:TreeDepth","model":"Decoders: Universal Multi-Lingual","layer":12,"accuracy":0.735},
{"panel":"te:TreeDepth","model":"Indic Multi-Lingual","layer":1,"accuracy":0.604},
{"panel":"te:TreeDepth","model":"Indic Multi-Lingual","layer":2,"accuracy":0.574},
{"panel":"te:TreeDepth","model":"Indic Multi-Lingual","layer":3,"accuracy":0.578},
{"panel":"te:TreeDepth","model":"Indic Multi-Lingual","layer":4,"accuracy":0.572},
{"panel":"te:TreeDepth","model":"Indic Multi-Lingual","layer":5,"accuracy":0.574},
{"panel":"te:TreeDepth","model":"Indic Multi-Lingual","layer":6,"accuracy":0.574},
{"panel":"te:TreeDepth","model":"Indic Multi-Lingual","layer":7,"accuracy":0.587},
{"panel":"te:TreeDepth","model":"Indic Multi-Lingual","layer":8,"accuracy":0.591},
{"panel":"te:TreeDepth","model":"Indic Multi-Lingual","layer":9,"accuracy":0.609},
{"panel":"te:TreeDepth","model":"Indic Multi-Lingual","layer":10,"accuracy":0.596},
{"panel":"te:TreeDepth","model":"Indic Multi-Lingual","layer":11,"accuracy":0.585},
{"panel":"te:TreeDepth","model":"Indic Multi-Lingual","layer":12,"accuracy":0.597},
{"panel":"ur:TreeDepth","model":"Encoders: Universal Multi-Lingual","layer":1,"accuracy":0.454},
{"panel":"ur:TreeDepth","model":"Encoders: Universal Multi-Lingual","layer":2,"accuracy":0.468},
{"panel":"ur:TreeDepth","model":"Encoders: Universal Multi-Lingual","layer":3,"accuracy":0.480},
{"panel":"ur:TreeDepth","model":"Encoders: Universal Multi-Lingual","layer":4,"accuracy":0.480},
{"panel":"ur:TreeDepth","model":"Encoders: Universal Multi-Lingual","layer":5,"accuracy":0.501},
{"panel":"ur:TreeDepth","model":"Encoders: Universal Multi-Lingual","layer":6,"accuracy":0.499},
{"panel":"ur:TreeDepth","model":"Encoders: Universal Multi-Lingual","layer":7,"accuracy":0.503},
{"panel":"ur:TreeDepth","model":"Encoders: Universal Multi-Lingual","layer":8,"accuracy":0.501},
{"panel":"ur:TreeDepth","model":"Encoders: Universal Multi-Lingual","layer":9,"accuracy":0.513},
{"panel":"ur:TreeDepth","model":"Encoders: Universal Multi-Lingual","layer":10,"accuracy":0.506},
{"panel":"ur:TreeDepth","model":"Encoders: Universal Multi-Lingual","layer":11,"accuracy":0.506},
{"panel":"ur:TreeDepth","model":"Encoders: Universal Multi-Lingual","layer":12,"accuracy":0.506},
{"panel":"ur:TreeDepth","model":"Decoders: Universal Multi-Lingual","layer":1,"accuracy":0.623},
{"panel":"ur:TreeDepth","model":"Decoders: Universal Multi-Lingual","layer":2,"accuracy":0.628},
{"panel":"ur:TreeDepth","model":"Decoders: Universal Multi-Lingual","layer":3,"accuracy":0.635},
{"panel":"ur:TreeDepth","model":"Decoders: Universal Multi-Lingual","layer":4,"accuracy":0.649},
{"panel":"ur:TreeDepth","model":"Decoders: Universal Multi-Lingual","layer":5,"accuracy":0.642},
{"panel":"ur:TreeDepth","model":"Decoders: Universal Multi-Lingual","layer":6,"accuracy":0.632},
{"panel":"ur:TreeDepth","model":"Decoders: Universal Multi-Lingual","layer":7,"accuracy":0.625},
{"panel":"ur:TreeDepth","model":"Decoders: Universal Multi-Lingual","layer":8,"accuracy":0.632},
{"panel":"ur:TreeDepth","model":"Decoders: Universal Multi-Lingual","layer":9,"accuracy":0.646},
{"panel":"ur:TreeDepth","model":"Decoders: Universal Multi-Lingual","layer":10,"accuracy":0.651},
{"panel":"ur:TreeDepth","model":"Decoders: Universal Multi-Lingual","layer":11,"accuracy":0.658},
{"panel":"ur:TreeDepth","model":"Decoders: Universal Multi-Lingual","layer":12,"accuracy":0.646},
{"panel":"ur:TreeDepth","model":"Indic Multi-Lingual","layer":1,"accuracy":0.336},
{"panel":"ur:TreeDepth","model":"Indic Multi-Lingual","layer":2,"accuracy":0.352},
{"panel":"ur:TreeDepth","model":"Indic Multi-Lingual","layer":3,"accuracy":0.345},
{"panel":"ur:TreeDepth","model":"Indic Multi-Lingual","layer":4,"accuracy":0.322},
{"panel":"ur:TreeDepth","model":"Indic Multi-Lingual","layer":5,"accuracy":0.338},
{"panel":"ur:TreeDepth","model":"Indic Multi-Lingual","layer":6,"accuracy":0.352},
{"panel":"ur:TreeDepth","model":"Indic Multi-Lingual","layer":7,"accuracy":0.329},
{"panel":"ur:TreeDepth","model":"Indic Multi-Lingual","layer":8,"accuracy":0.336},
{"panel":"ur:TreeDepth","model":"Indic Multi-Lingual","layer":9,"accuracy":0.329},
{"panel":"ur:TreeDepth","model":"Indic Multi-Lingual","layer":10,"accuracy":0.329},
{"panel":"ur:TreeDepth","model":"Indic Multi-Lingual","layer":11,"accuracy":0.332},
{"panel":"ur:TreeDepth","model":"Indic Multi-Lingual","layer":12,"accuracy":0.329},
{"panel":"hi:BShift","model":"Encoders: Universal Multi-Lingual","layer":1,"accuracy":0.693},
{"panel":"hi:BShift","model":"Encoders: Universal Multi-Lingual","layer":2,"accuracy":0.698},
{"panel":"hi:BShift","model":"Encoders: Universal Multi-Lingual","layer":3,"accuracy":0.705},
{"panel":"hi:BShift","model":"Encoders: Universal Multi-Lingual","layer":4,"accuracy":0.714},
{"panel":"hi:BShift","model":"Encoders: Universal Multi-Lingual","layer":5,"accuracy":0.726},
{"panel":"hi:BShift","model":"Encoders: Universal Multi-Lingual","layer":6,"accuracy":0.724},
{"panel":"hi:BShift","model":"Encoders: Universal Multi-Lingual","layer":7,"accuracy":0.733},
{"panel":"hi:BShift","model":"Encoders: Universal Multi-Lingual","layer":8,"accuracy":0.738},
{"panel":"hi:BShift","model":"Encoders: Universal Multi-Lingual","layer":9,"accuracy":0.742},
{"panel":"hi:BShift","model":"Encoders: Universal Multi-Lingual","layer":10,"accuracy":0.745},
{"panel":"hi:BShift","model":"Encoders: Universal Multi-Lingual","layer":11,"accuracy":0.745},
{"panel":"hi:BShift","model":"Encoders: Universal Multi-Lingual","layer":12,"accuracy":0.745},
{"panel":"hi:BShift","model":"Decoders: Universal Multi-Lingual","layer":1,"accuracy":0.700},
{"panel":"hi:BShift","model":"Decoders: Universal Multi-Lingual","layer":2,"accuracy":0.698},
{"panel":"hi:BShift","model":"Decoders: Universal Multi-Lingual","layer":3,"accuracy":0.697},
{"panel":"hi:BShift","model":"Decoders: Universal Multi-Lingual","layer":4,"accuracy":0.693},
{"panel":"hi:BShift","model":"Decoders: Universal Multi-Lingual","layer":5,"accuracy":0.702},
{"panel":"hi:BShift","model":"Decoders: Universal Multi-Lingual","layer":6,"accuracy":0.695},
{"panel":"hi:BShift","model":"Decoders: Universal Multi-Lingual","layer":7,"accuracy":0.701},
{"panel":"hi:BShift","model":"Decoders: Universal Multi-Lingual","layer":8,"accuracy":0.708},
{"panel":"hi:BShift","model":"Decoders: Universal Multi-Lingual","layer":9,"accuracy":0.710},
{"panel":"hi:BShift","model":"Decoders: Universal Multi-Lingual","layer":10,"accuracy":0.716},
{"panel":"hi:BShift","model":"Decoders: Universal Multi-Lingual","layer":11,"accuracy":0.726},
{"panel":"hi:BShift","model":"Decoders: Universal Multi-Lingual","layer":12,"accuracy":0.723},
{"panel":"hi:BShift","model":"Indic Multi-Lingual","layer":1,"accuracy":0.696},
{"panel":"hi:BShift","model":"Indic Multi-Lingual","layer":2,"accuracy":0.687},
{"panel":"hi:BShift","model":"Indic Multi-Lingual","layer":3,"accuracy":0.716},
{"panel":"hi:BShift","model":"Indic Multi-Lingual","layer":4,"accuracy":0.739},
{"panel":"hi:BShift","model":"Indic Multi-Lingual","layer":5,"accuracy":0.746},
{"panel":"hi:BShift","model":"Indic Multi-Lingual","layer":6,"accuracy":0.749},
{"panel":"hi:BShift","model":"Indic Multi-Lingual","layer":7,"accuracy":0.753},
{"panel":"hi:BShift","model":"Indic Multi-Lingual","layer":8,"accuracy":0.748},
{"panel":"hi:BShift","model":"Indic Multi-Lingual","layer":9,"accuracy":0.767},
{"panel":"hi:BShift","model":"Indic Multi-Lingual","layer":10,"accuracy":0.768},
{"panel":"hi:BShift","model":"Indic Multi-Lingual","layer":11,"accuracy":0.768},
{"panel":"hi:BShift","model":"Indic Multi-Lingual","layer":12,"accuracy":0.761},
{"panel":"kn:BShift","model":"Encoders: Universal Multi-Lingual","layer":1,"accuracy":0.701},
{"panel":"kn:BShift","model":"Encoders: Universal Multi-Lingual","layer":2,"accuracy":0.705},
{"panel":"kn:BShift","model":"Encoders: Universal Multi-Lingual","layer":3,"accuracy":0.708},
{"panel":"kn:BShift","model":"Encoders: Universal Multi-Lingual","layer":4,"accuracy":0.707},
{"panel":"kn:BShift","model":"Encoders: Universal Multi-Lingual","layer":5,"accuracy":0.709},
{"panel":"kn:BShift","model":"Encoders: Universal Multi-Lingual","layer":6,"accuracy":0.714},
{"panel":"kn:BShift","model":"Encoders: Universal Multi-Lingual","layer":7,"accuracy":0.710},
{"panel":"kn:BShift","model":"Encoders: Universal Multi-Lingual","layer":8,"accuracy":0.711},
{"panel":"kn:BShift","model":"Encoders: Universal Multi-Lingual","layer":9,"accuracy":0.711},
{"panel":"kn:BShift","model":"Encoders: Universal Multi-Lingual","layer":10,"accuracy":0.714},
{"panel":"kn:BShift","model":"Encoders: Universal Multi-Lingual","layer":11,"accuracy":0.707},
{"panel":"kn:BShift","model":"Encoders: Universal Multi-Lingual","layer":12,"accuracy":0.710},
{"panel":"kn:BShift","model":"Decoders: Universal Multi-Lingual","layer":1,"accuracy":0.726},
{"panel":"kn:BShift","model":"Decoders: Universal Multi-Lingual","layer":2,"accuracy":0.723},
{"panel":"kn:BShift","model":"Decoders: Universal Multi-Lingual","layer":3,"accuracy":0.717},
{"panel":"kn:BShift","model":"Decoders: Universal Multi-Lingual","layer":4,"accuracy":0.710},
{"panel":"kn:BShift","model":"Decoders: Universal Multi-Lingual","layer":5,"accuracy":0.711},
{"panel":"kn:BShift","model":"Decoders: Universal Multi-Lingual","layer":6,"accuracy":0.707},
{"panel":"kn:BShift","model":"Decoders: Universal Multi-Lingual","layer":7,"accuracy":0.710},
{"panel":"kn:BShift","model":"Decoders: Universal Multi-Lingual","layer":8,"accuracy":0.702},
{"panel":"kn:BShift","model":"Decoders: Universal Multi-Lingual","layer":9,"accuracy":0.705},
{"panel":"kn:BShift","model":"Decoders: Universal Multi-Lingual","layer":10,"accuracy":0.696},
{"panel":"kn:BShift","model":"Decoders: Universal Multi-Lingual","layer":11,"accuracy":0.695},
{"panel":"kn:BShift","model":"Decoders: Universal Multi-Lingual","layer":12,"accuracy":0.700},
{"panel":"kn:BShift","model":"Indic Multi-Lingual","layer":1,"accuracy":0.714},
{"panel":"kn:BShift","model":"Indic Multi-Lingual","layer":2,"accuracy":0.704},
{"panel":"kn:BShift","model":"Indic Multi-Lingual","layer":3,"accuracy":0.697},
{"panel":"kn:BShift","model":"Indic Multi-Lingual","layer":4,"accuracy":0.698},
{"panel":"kn:BShift","model":"Indic Multi-Lingual","layer":5,"accuracy":0.699},
{"panel":"kn:BShift","model":"Indic Multi-Lingual","layer":6,"accuracy":0.699},
{"panel":"kn:BShift","model":"Indic Multi-Lingual","layer":7,"accuracy":0.701},
{"panel":"kn:BShift","model":"Indic Multi-Lingual","layer":8,"accuracy":0.697},
{"panel":"kn:BShift","model":"Indic Multi-Lingual","layer":9,"accuracy":0.694},
{"panel":"kn:BShift","model":"Indic Multi-Lingual","layer":10,"accuracy":0.690},
{"panel":"kn:BShift","model":"Indic Multi-Lingual","layer":11,"accuracy":0.690},
{"panel":"kn:BShift","model":"Indic Multi-Lingual","layer":12,"accuracy":0.697},
{"panel":"ml:BShift","model":"Encoders: Universal Multi-Lingual","layer":1,"accuracy":0.673},
{"panel":"ml:BShift","model":"Encoders: Universal Multi-Lingual","layer":2,"accuracy":0.677},
{"panel":"ml:BShift","model":"Encoders: Universal Multi-Lingual","layer":3,"accuracy":0.684},
{"panel":"ml:BShift","model":"Encoders: Universal Multi-Lingual","layer":4,"accuracy":0.697},
{"panel":"ml:BShift","model":"Encoders: Universal Multi-Lingual","layer":5,"accuracy":0.702},
{"panel":"ml:BShift","model":"Encoders: Universal Multi-Lingual","layer":6,"accuracy":0.709},
{"panel":"ml:BShift","model":"Encoders: Universal Multi-Lingual","layer":7,"accuracy":0.718},
{"panel":"ml:BShift","model":"Encoders: Universal Multi-Lingual","layer":8,"accuracy":0.717},
{"panel":"ml:BShift","model":"Encoders: Universal Multi-Lingual","layer":9,"accuracy":0.718},
{"panel":"ml:BShift","model":"Encoders: Universal Multi-Lingual","layer":10,"accuracy":0.723},
{"panel":"ml:BShift","model":"Encoders: Universal Multi-Lingual","layer":11,"accuracy":0.729},
{"panel":"ml:BShift","model":"Encoders: Universal Multi-Lingual","layer":12,"accuracy":0.720},
{"panel":"ml:BShift","model":"Decoders: Universal Multi-Lingual","layer":1,"accuracy":0.692},
{"panel":"ml:BShift","model":"Decoders: Universal Multi-Lingual","layer":2,"accuracy":0.691},
{"panel":"ml:BShift","model":"Decoders: Universal Multi-Lingual","layer":3,"accuracy":0.695},
{"panel":"ml:BShift","model":"Decoders: Universal Multi-Lingual","layer":4,"accuracy":0.685},
{"panel":"ml:BShift","model":"Decoders: Universal Multi-Lingual","layer":5,"accuracy":0.690},
{"panel":"ml:BShift","model":"Decoders: Universal Multi-Lingual","layer":6,"accuracy":0.673},
{"panel":"ml:BShift","model":"Decoders: Universal Multi-Lingual","layer":7,"accuracy":0.679},
{"panel":"ml:BShift","model":"Decoders: Universal Multi-Lingual","layer":8,"accuracy":0.672},
{"panel":"ml:BShift","model":"Decoders: Universal Multi-Lingual","layer":9,"accuracy":0.668},
{"panel":"ml:BShift","model":"Decoders: Universal Multi-Lingual","layer":10,"accuracy":0.671},
{"panel":"ml:BShift","model":"Decoders: Universal Multi-Lingual","layer":11,"accuracy":0.666},
{"panel":"ml:BShift","model":"Decoders: Universal Multi-Lingual","layer":12,"accuracy":0.668},
{"panel":"ml:BShift","model":"Indic Multi-Lingual","layer":1,"accuracy":0.681},
{"panel":"ml:BShift","model":"Indic Multi-Lingual","layer":2,"accuracy":0.673},
{"panel":"ml:BShift","model":"Indic Multi-Lingual","layer":3,"accuracy":0.690},
{"panel":"ml:BShift","model":"Indic Multi-Lingual","layer":4,"accuracy":0.708},
{"panel":"ml:BShift","model":"Indic Multi-Lingual","layer":5,"accuracy":0.717},
{"panel":"ml:BShift","model":"Indic Multi-Lingual","layer":6,"accuracy":0.716},
{"panel":"ml:BShift","model":"Indic Multi-Lingual","layer":7,"accuracy":0.735},
{"panel":"ml:BShift","model":"Indic Multi-Lingual","layer":8,"accuracy":0.720},
{"panel":"ml:BShift","model":"Indic Multi-Lingual","layer":9,"accuracy":0.725},
{"panel":"ml:BShift","model":"Indic Multi-Lingual","layer":10,"accuracy":0.746},
{"panel":"ml:BShift","model":"Indic Multi-Lingual","layer":11,"accuracy":0.737},
{"panel":"ml:BShift","model":"Indic Multi-Lingual","layer":12,"accuracy":0.727},
{"panel":"mr:BShift","model":"Encoders: Universal Multi-Lingual","layer":1,"accuracy":0.710},
{"panel":"mr:BShift","model":"Encoders: Universal Multi-Lingual","layer":2,"accuracy":0.708},
{"panel":"mr:BShift","model":"Encoders: Universal Multi-Lingual","layer":3,"accuracy":0.716},
{"panel":"mr:BShift","model":"Encoders: Universal Multi-Lingual","layer":4,"accuracy":0.717},
{"panel":"mr:BShift","model":"Encoders: Universal Multi-Lingual","layer":5,"accuracy":0.731},
{"panel":"mr:BShift","model":"Encoders: Universal Multi-Lingual","layer":6,"accuracy":0.735},
{"panel":"mr:BShift","model":"Encoders: Universal Multi-Lingual","layer":7,"accuracy":0.738},
{"panel":"mr:BShift","model":"Encoders: Universal Multi-Lingual","layer":8,"accuracy":0.735},
{"panel":"mr:BShift","model":"Encoders: Universal Multi-Lingual","layer":9,"accuracy":0.738},
{"panel":"mr:BShift","model":"Encoders: Universal Multi-Lingual","layer":10,"accuracy":0.735},
{"panel":"mr:BShift","model":"Encoders: Universal Multi-Lingual","layer":11,"accuracy":0.735},
{"panel":"mr:BShift","model":"Encoders: Universal Multi-Lingual","layer":12,"accuracy":0.735},
{"panel":"mr:BShift","model":"Decoders: Universal Multi-Lingual","layer":1,"accuracy":0.718},
{"panel":"mr:BShift","model":"Decoders: Universal Multi-Lingual","layer":2,"accuracy":0.718},
{"panel":"mr:BShift","model":"Decoders: Universal Multi-Lingual","layer":3,"accuracy":0.713},
{"panel":"mr:BShift","model":"Decoders: Universal Multi-Lingual","layer":4,"accuracy":0.713},
{"panel":"mr:BShift","model":"Decoders: Universal Multi-Lingual","layer":5,"accuracy":0.706},
{"panel":"mr:BShift","model":"Decoders: Universal Multi-Lingual","layer":6,"accuracy":0.707},
{"panel":"mr:BShift","model":"Decoders: Universal Multi-Lingual","layer":7,"accuracy":0.703},
{"panel":"mr:BShift","model":"Decoders: Universal Multi-Lingual","layer":8,"accuracy":0.696},
{"panel":"mr:BShift","model":"Decoders: Universal Multi-Lingual","layer":9,"accuracy":0.707},
{"panel":"mr:BShift","model":"Decoders: Universal Multi-Lingual","layer":10,"accuracy":0.697},
{"panel":"mr:BShift","model":"Decoders: Universal Multi-Lingual","layer":11,"accuracy":0.711},
{"panel":"mr:BShift","model":"Decoders: Universal Multi-Lingual","layer":12,"accuracy":0.696},
{"panel":"mr:BShift","model":"Indic Multi-Lingual","layer":1,"accuracy":0.717},
{"panel":"mr:BShift","model":"Indic Multi-Lingual","layer":2,"accuracy":0.701},
{"panel":"mr:BShift","model":"Indic Multi-Lingual","layer":3,"accuracy":0.727},
{"panel":"mr:BShift","model":"Indic Multi-Lingual","layer":4,"accuracy":0.732},
{"panel":"mr:BShift","model":"Indic Multi-Lingual","layer":5,"accuracy":0.735},
{"panel":"mr:BShift","model":"Indic Multi-Lingual","layer":6,"accuracy":0.742},
{"panel":"mr:BShift","model":"Indic Multi-Lingual","layer":7,"accuracy":0.748},
{"panel":"mr:BShift","model":"Indic Multi-Lingual","layer":8,"accuracy":0.744},
{"panel":"mr:BShift","model":"Indic Multi-Lingual","layer":9,"accuracy":0.761},
{"panel":"mr:BShift","model":"Indic Multi-Lingual","layer":10,"accuracy":0.771},
{"panel":"mr:BShift","model":"Indic Multi-Lingual","layer":11,"accuracy":0.763},
{"panel":"mr:BShift","model":"Indic Multi-Lingual","layer":12,"accuracy":0.756},
{"panel":"te:BShift","model":"Encoders: Universal Multi-Lingual","layer":1,"accuracy":0.649},
{"panel":"te:BShift","model":"Encoders: Universal Multi-Lingual","layer":2,"accuracy":0.661},
{"panel":"te:BShift","model":"Encoders: Universal Multi-Lingual","layer":3,"accuracy":0.659},
{"panel":"te:BShift","model":"Encoders: Universal Multi-Lingual","layer":4,"accuracy":0.657},
{"panel":"te:BShift","model":"Encoders: Universal Multi-Lingual","layer":5,"accuracy":0.662},
{"panel":"te:BShift","model":"Encoders: Universal Multi-Lingual","layer":6,"accuracy":0.670},
{"panel":"te:BShift","model":"Encoders: Universal Multi-Lingual","layer":7,"accuracy":0.673},
{"panel":"te:BShift","model":"Encoders: Universal Multi-Lingual","layer":8,"accuracy":0.670},
{"panel":"te:BShift","model":"Encoders: Universal Multi-Lingual","layer":9,"accuracy":0.661},
{"panel":"te:BShift","model":"Encoders: Universal Multi-Lingual","layer":10,"accuracy":0.654},
{"panel":"te:BShift","model":"Encoders: Universal Multi-Lingual","layer":11,"accuracy":0.661},
{"panel":"te:BShift","model":"Encoders: Universal Multi-Lingual","layer":12,"accuracy":0.662},
{"panel":"te:BShift","model":"Decoders: Universal Multi-Lingual","layer":1,"accuracy":0.689},
{"panel":"te:BShift","model":"Decoders: Universal Multi-Lingual","layer":2,"accuracy":0.650},
{"panel":"te:BShift","model":"Decoders: Universal Multi-Lingual","layer":3,"accuracy":0.658},
{"panel":"te:BShift","model":"Decoders: Universal Multi-Lingual","layer":4,"accuracy":0.642},
{"panel":"te:BShift","model":"Decoders: Universal Multi-Lingual","layer":5,"accuracy":0.646},
{"panel":"te:BShift","model":"Decoders: Universal Multi-Lingual","layer":6,"accuracy":0.616},
{"panel":"te:BShift","model":"Decoders: Universal Multi-Lingual","layer":7,"accuracy":0.640},
{"panel":"te:BShift","model":"Decoders: Universal Multi-Lingual","layer":8,"accuracy":0.638},
{"panel":"te:BShift","model":"Decoders: Universal Multi-Lingual","layer":9,"accuracy":0.625},
{"panel":"te:BShift","model":"Decoders: Universal Multi-Lingual","layer":10,"accuracy":0.614},
{"panel":"te:BShift","model":"Decoders: Universal Multi-Lingual","layer":11,"accuracy":0.627},
{"panel":"te:BShift","model":"Decoders: Universal Multi-Lingual","layer":12,"accuracy":0.618},
{"panel":"te:BShift","model":"Indic Multi-Lingual","layer":1,"accuracy":0.673},
{"panel":"te:BShift","model":"Indic Multi-Lingual","layer":2,"accuracy":0.624},
{"panel":"te:BShift","model":"Indic Multi-Lingual","layer":3,"accuracy":0.604},
{"panel":"te:BShift","model":"Indic Multi-Lingual","layer":4,"accuracy":0.616},
{"panel":"te:BShift","model":"Indic Multi-Lingual","layer":5,"accuracy":0.629},
{"panel":"te:BShift","model":"Indic Multi-Lingual","layer":6,"accuracy":0.636},
{"panel":"te:BShift","model":"Indic Multi-Lingual","layer":7,"accuracy":0.630},
{"panel":"te:BShift","model":"Indic Multi-Lingual","layer":8,"accuracy":0.640},
{"panel":"te:BShift","model":"Indic Multi-Lingual","layer":9,"accuracy":0.648},
{"panel":"te:BShift","model":"Indic Multi-Lingual","layer":10,"accuracy":0.633},
{"panel":"te:BShift","model":"Indic Multi-Lingual","layer":11,"accuracy":0.618},
{"panel":"te:BShift","model":"Indic Multi-Lingual","layer":12,"accuracy":0.611},
{"panel":"ur:BShift","model":"Encoders: Universal Multi-Lingual","layer":1,"accuracy":0.627},
{"panel":"ur:BShift","model":"Encoders: Universal Multi-Lingual","layer":2,"accuracy":0.632},
{"panel":"ur:BShift","model":"Encoders: Universal Multi-Lingual","layer":3,"accuracy":0.642},
{"panel":"ur:BShift","model":"Encoders: Universal Multi-Lingual","layer":4,"accuracy":0.664},
{"panel":"ur:BShift","model":"Encoders: Universal Multi-Lingual","layer":5,"accuracy":0.669},
{"panel":"ur:BShift","model":"Encoders: Universal Multi-Lingual","layer":6,"accuracy":0.688},
{"panel":"ur:BShift","model":"Encoders: Universal Multi-Lingual","layer":7,"accuracy":0.687},
{"panel":"ur:BShift","model":"Encoders: Universal Multi-Lingual","layer":8,"accuracy":0.676},
{"panel":"ur:BShift","model":"Encoders: Universal Multi-Lingual","layer":9,"accuracy":0.688},
{"panel":"ur:BShift","model":"Encoders: Universal Multi-Lingual","layer":10,"accuracy":0.686},
{"panel":"ur:BShift","model":"Encoders: Universal Multi-Lingual","layer":11,"accuracy":0.689},
{"panel":"ur:BShift","model":"Encoders: Universal Multi-Lingual","layer":12,"accuracy":0.691},
{"panel":"ur:BShift","model":"Decoders: Universal Multi-Lingual","layer":1,"accuracy":0.620},
{"panel":"ur:BShift","model":"Decoders: Universal Multi-Lingual","layer":2,"accuracy":0.600},
{"panel":"ur:BShift","model":"Decoders: Universal Multi-Lingual","layer":3,"accuracy":0.637},
{"panel":"ur:BShift","model":"Decoders: Universal Multi-Lingual","layer":4,"accuracy":0.624},
{"panel":"ur:BShift","model":"Decoders: Universal Multi-Lingual","layer":5,"accuracy":0.605},
{"panel":"ur:BShift","model":"Decoders: Universal Multi-Lingual","layer":6,"accuracy":0.607},
{"panel":"ur:BShift","model":"Decoders: Universal Multi-Lingual","layer":7,"accuracy":0.593},
{"panel":"ur:BShift","model":"Decoders: Universal Multi-Lingual","layer":8,"accuracy":0.620},
{"panel":"ur:BShift","model":"Decoders: Universal Multi-Lingual","layer":9,"accuracy":0.629},
{"panel":"ur:BShift","model":"Decoders: Universal Multi-Lingual","layer":10,"accuracy":0.620},
{"panel":"ur:BShift","model":"Decoders: Universal Multi-Lingual","layer":11,"accuracy":0.637},
{"panel":"ur:BShift","model":"Decoders: Universal Multi-Lingual","layer":12,"accuracy":0.659},
{"panel":"ur:BShift","model":"Indic Multi-Lingual","layer":1,"accuracy":0.650},
{"panel":"ur:BShift","model":"Indic Multi-Lingual","layer":2,"accuracy":0.617},
{"panel":"ur:BShift","model":"Indic Multi-Lingual","layer":3,"accuracy":0.663},
{"panel":"ur:BShift","model":"Indic Multi-Lingual","layer":4,"accuracy":0.669},
{"panel":"ur:BShift","model":"Indic Multi-Lingual","layer":5,"accuracy":0.655},
{"panel":"ur:BShift","model":"Indic Multi-Lingual","layer":6,"accuracy":0.674},
{"panel":"ur:BShift","model":"Indic Multi-Lingual","layer":7,"accuracy":0.671},
{"panel":"ur:BShift","model":"Indic Multi-Lingual","layer":8,"accuracy":0.674},
{"panel":"ur:BShift","model":"Indic Multi-Lingual","layer":9,"accuracy":0.682},
{"panel":"ur:BShift","model":"Indic Multi-Lingual","layer":10,"accuracy":0.668},
{"panel":"ur:BShift","model":"Indic Multi-Lingual","layer":11,"accuracy":0.683},
{"panel":"ur:BShift","model":"Indic Multi-Lingual","layer":12,"accuracy":0.673}
]},
"columns": 6,
"spacing": {"row": 81.5, "column": 56},
"bounds": "flush",
"resolve": {"scale": {"x": "independent", "y": "independent", "color": "shared"}},
"concat": [
{"title": {"text": "hi:SentLen", "fontWeight": "normal", "fontSize": 17.3}, "transform": [{"filter": {"field": "panel", "equal": "hi:SentLen"}}],
 "encoding": {
  "x": {"field": "layer", "type": "quantitative", "scale": {"domain": [-0.15, 13.05], "nice": false, "zero": false}, "axis": {"values": [1,2,3,4,5,6,7,8,9,10,11,12], "labelExpr": "datum.value % 2 === 0 ? datum.label : ''", "title": null}},
  "y": {"field": "accuracy", "type": "quantitative", "scale": {"domain": [0.607, 0.933], "nice": false, "zero": false}, "axis": {"values": [0.7, 0.8, 0.9], "format": "~g", "title": "Accuracy", "titleX": -44, "titleBaseline": "alphabetic"}},
  "color": {"field": "model", "type": "nominal", "scale": {"domain": ["Encoders: Universal Multi-Lingual", "Decoders: Universal Multi-Lingual", "Indic Multi-Lingual"], "range": ["#ff8550", "#006400", "#800080"]},
   "legend": {"orient": "none", "legendX": 68, "legendY": -64, "direction": "horizontal", "title": null, "labelFontSize": 18.7, "labelFont": "DejaVu Sans", "labelColor": "black", "symbolType": "M-1,-0.06L1,-0.06L1,0.06L-1,0.06ZM0.3,0A0.3,0.3 0 1,1 -0.3,0A0.3,0.3 0 1,1 0.3,0Z", "symbolSize": 1156, "symbolStrokeWidth": 0, "labelOffset": 6, "columnPadding": 17, "padding": 0, "labelLimit": 0,
     "encode": {"symbols": {"update": {"fill": {"scale": "color", "field": "value"}, "opacity": {"value": 1}, "strokeWidth": {"value": 0}}}}}}
 },
 "layer": [{"mark": {"type": "line"}}, {"mark": {"type": "point"}}]},
{"title": {"text": "kn:SentLen", "fontWeight": "normal", "fontSize": 17.3}, "transform": [{"filter": {"field": "panel", "equal": "kn:SentLen"}}],
 "encoding": {
  "x": {"field": "layer", "type": "quantitative", "scale": {"domain": [-0.15, 13.05], "nice": false, "zero": false}, "axis": {"values": [1,2,3,4,5,6,7,8,9,10,11,12], "labelExpr": "datum.value % 2 === 0 ? datum.label : ''", "title": null}},
  "y": {"field": "accuracy", "type": "quantitative", "scale": {"domain": [0.24, 0.94], "nice": false, "zero": false}, "axis": {"values": [0.4, 0.6, 0.8], "format": "~g", "title": null}},
  "color": {"field": "model", "type": "nominal"}
 },
 "layer": [{"mark": {"type": "line"}}, {"mark": {"type": "point"}}]},
{"title": {"text": "ml:SentLen", "fontWeight": "normal", "fontSize": 17.3}, "transform": [{"filter": {"field": "panel", "equal": "ml:SentLen"}}],
 "encoding": {
  "x": {"field": "layer", "type": "quantitative", "scale": {"domain": [-0.15, 13.05], "nice": false, "zero": false}, "axis": {"values": [1,2,3,4,5,6,7,8,9,10,11,12], "labelExpr": "datum.value % 2 === 0 ? datum.label : ''", "title": null}},
  "y": {"field": "accuracy", "type": "quantitative", "scale": {"domain": [0.624, 0.871], "nice": false, "zero": false}, "axis": {"values": [0.65, 0.7, 0.75, 0.8, 0.85], "format": "~g", "title": null}},
  "color": {"field": "model", "type": "nominal"}
 },
 "layer": [{"mark": {"type": "line"}}, {"mark": {"type": "point"}}]},
{"title": {"text": "mr:SentLen", "fontWeight": "normal", "fontSize": 17.3}, "transform": [{"filter": {"field": "panel", "equal": "mr:SentLen"}}],
 "encoding": {
  "x": {"field": "layer", "type": "quantitative", "scale": {"domain": [-0.15, 13.05], "nice": false, "zero": false}, "axis": {"values": [1,2,3,4,5,6,7,8,9,10,11,12], "labelExpr": "datum.value % 2 === 0 ? datum.label : ''", "title": null}},
  "y": {"field": "accuracy", "type": "quantitative", "scale": {"domain": [0.609, 0.888], "nice": false, "zero": false}, "axis": {"values": [0.7, 0.8], "format": "~g", "title": null}},
  "color": {"field": "model", "type": "nominal"}
 },
 "layer": [{"mark": {"type": "line"}}, {"mark": {"type": "point"}}]},
{"title": {"text": "te:SentLen", "fontWeight": "normal", "fontSize": 17.3, "dy": 6.5}, "transform": [{"filter": {"field": "panel", "equal": "te:SentLen"}}],
 "encoding": {
  "x": {"field": "layer", "type": "quantitative", "scale": {"domain": [-0.15, 13.05], "nice": false, "zero": false}, "axis": {"values": [1,2,3,4,5,6,7,8,9,10,11,12], "labelExpr": "datum.value % 2 === 0 ? datum.label : ''", "title": null}},
  "y": {"field": "accuracy", "type": "quantitative", "scale": {"domain": [0.803, 1.004], "nice": false, "zero": false}, "axis": {"values": [0.85, 0.9, 0.95, 1], "format": "~g", "title": null}},
  "color": {"field": "model", "type": "nominal"}
 },
 "layer": [{"mark": {"type": "line"}}, {"mark": {"type": "point"}}]},
{"title": {"text": "ur:SentLen", "fontWeight": "normal", "fontSize": 17.3}, "transform": [{"filter": {"field": "panel", "equal": "ur:SentLen"}}],
 "encoding": {
  "x": {"field": "layer", "type": "quantitative", "scale": {"domain": [-0.15, 13.05], "nice": false, "zero": false}, "axis": {"values": [1,2,3,4,5,6,7,8,9,10,11,12], "labelExpr": "datum.value % 2 === 0 ? datum.label : ''", "title": null}},
  "y": {"field": "accuracy", "type": "quantitative", "scale": {"domain": [0.521, 0.849], "nice": false, "zero": false}, "axis": {"values": [0.6, 0.7, 0.8], "format": "~g", "title": null}},
  "color": {"field": "model", "type": "nominal"}
 },
 "layer": [{"mark": {"type": "line"}}, {"mark": {"type": "point"}}]},
{"title": {"text": "hi:TreeDepth", "fontWeight": "normal", "fontSize": 17.3}, "transform": [{"filter": {"field": "panel", "equal": "hi:TreeDepth"}}],
 "encoding": {
  "x": {"field": "layer", "type": "quantitative", "scale": {"domain": [-0.15, 13.05], "nice": false, "zero": false}, "axis": {"values": [1,2,3,4,5,6,7,8,9,10,11,12], "labelExpr": "datum.value % 2 === 0 ? datum.label : ''", "title": null}},
  "y": {"field": "accuracy", "type": "quantitative", "scale": {"domain": [0.659, 0.794], "nice": false, "zero": false}, "axis": {"values": [0.7, 0.75], "format": "~g", "title": "Accuracy", "titleX": -44, "titleBaseline": "alphabetic"}},
  "color": {"field": "model", "type": "nominal"}
 },
 "layer": [{"mark": {"type": "line"}}, {"mark": {"type": "point"}}]},
{"title": {"text": "kn:TreeDepth", "fontWeight": "normal", "fontSize": 17.3, "dy": 7}, "transform": [{"filter": {"field": "panel", "equal": "kn:TreeDepth"}}],
 "encoding": {
  "x": {"field": "layer", "type": "quantitative", "scale": {"domain": [-0.15, 13.05], "nice": false, "zero": false}, "axis": {"values": [1,2,3,4,5,6,7,8,9,10,11,12], "labelExpr": "datum.value % 2 === 0 ? datum.label : ''", "title": null}},
  "y": {"field": "accuracy", "type": "quantitative", "scale": {"domain": [0.35, 0.81], "nice": false, "zero": false}, "axis": {"values": [0.4, 0.5, 0.6, 0.7, 0.8], "format": "~g", "title": null}},
  "color": {"field": "model", "type": "nominal"}
 },
 "layer": [{"mark": {"type": "line"}}, {"mark": {"type": "point"}}]},
{"title": {"text": "ml:TreeDepth", "fontWeight": "normal", "fontSize": 17.3}, "transform": [{"filter": {"field": "panel", "equal": "ml:TreeDepth"}}],
 "encoding": {
  "x": {"field": "layer", "type": "quantitative", "scale": {"domain": [-0.15, 13.05], "nice": false, "zero": false}, "axis": {"values": [1,2,3,4,5,6,7,8,9,10,11,12], "labelExpr": "datum.value % 2 === 0 ? datum.label : ''", "title": null}},
  "y": {"field": "accuracy", "type": "quantitative", "scale": {"domain": [0.59, 0.739], "nice": false, "zero": false}, "axis": {"values": [0.6, 0.65, 0.7], "format": "~g", "title": null}},
  "color": {"field": "model", "type": "nominal"}
 },
 "layer": [{"mark": {"type": "line"}}, {"mark": {"type": "point"}}]},
{"title": {"text": "mr:TreeDepth", "fontWeight": "normal", "fontSize": 17.3}, "transform": [{"filter": {"field": "panel", "equal": "mr:TreeDepth"}}],
 "encoding": {
  "x": {"field": "layer", "type": "quantitative", "scale": {"domain": [-0.15, 13.05], "nice": false, "zero": false}, "axis": {"values": [1,2,3,4,5,6,7,8,9,10,11,12], "labelExpr": "datum.value % 2 === 0 ? datum.label : ''", "title": null}},
  "y": {"field": "accuracy", "type": "quantitative", "scale": {"domain": [0.296, 0.703], "nice": false, "zero": false}, "axis": {"values": [0.3, 0.4, 0.5, 0.6], "format": "~g", "title": null}},
  "color": {"field": "model", "type": "nominal"}
 },
 "layer": [{"mark": {"type": "line"}}, {"mark": {"type": "point"}}]},
{"title": {"text": "te:TreeDepth", "fontWeight": "normal", "fontSize": 17.3}, "transform": [{"filter": {"field": "panel", "equal": "te:TreeDepth"}}],
 "encoding": {
  "x": {"field": "layer", "type": "quantitative", "scale": {"domain": [-0.15, 13.05], "nice": false, "zero": false}, "axis": {"values": [1,2,3,4,5,6,7,8,9,10,11,12], "labelExpr": "datum.value % 2 === 0 ? datum.label : ''", "title": null}},
  "y": {"field": "accuracy", "type": "quantitative", "scale": {"domain": [0.52, 0.79], "nice": false, "zero": false}, "axis": {"values": [0.6, 0.7], "format": "~g", "title": null}},
  "color": {"field": "model", "type": "nominal"}
 },
 "layer": [{"mark": {"type": "line"}}, {"mark": {"type": "point"}}]},
{"title": {"text": "ur:TreeDepth", "fontWeight": "normal", "fontSize": 17.3, "dy": 7}, "transform": [{"filter": {"field": "panel", "equal": "ur:TreeDepth"}}],
 "encoding": {
  "x": {"field": "layer", "type": "quantitative", "scale": {"domain": [-0.15, 13.05], "nice": false, "zero": false}, "axis": {"values": [1,2,3,4,5,6,7,8,9,10,11,12], "labelExpr": "datum.value % 2 === 0 ? datum.label : ''", "title": null}},
  "y": {"field": "accuracy", "type": "quantitative", "scale": {"domain": [0.27, 0.71], "nice": false, "zero": false}, "axis": {"values": [0.3, 0.4, 0.5, 0.6, 0.7], "format": "~g", "title": null}},
  "color": {"field": "model", "type": "nominal"}
 },
 "layer": [{"mark": {"type": "line"}}, {"mark": {"type": "point"}}]},
{"title": {"text": "hi:BShift", "fontWeight": "normal", "fontSize": 17.3}, "transform": [{"filter": {"field": "panel", "equal": "hi:BShift"}}],
 "encoding": {
  "x": {"field": "layer", "type": "quantitative", "scale": {"domain": [-0.15, 13.05], "nice": false, "zero": false}, "axis": {"values": [1,2,3,4,5,6,7,8,9,10,11,12], "labelExpr": "datum.value % 2 === 0 ? datum.label : ''", "title": null}},
  "y": {"field": "accuracy", "type": "quantitative", "scale": {"domain": [0.637, 0.821], "nice": false, "zero": false}, "axis": {"values": [0.65, 0.7, 0.75, 0.8], "format": "~g", "title": "Accuracy", "titleX": -44, "titleBaseline": "alphabetic"}},
  "color": {"field": "model", "type": "nominal"}
 },
 "layer": [{"mark": {"type": "line"}}, {"mark": {"type": "point"}}]},
{"title": {"text": "kn:BShift", "fontWeight": "normal", "fontSize": 17.3}, "transform": [{"filter": {"field": "panel", "equal": "kn:BShift"}}],
 "encoding": {
  "x": {"field": "layer", "type": "quantitative", "scale": {"domain": [-0.15, 13.05], "nice": false, "zero": false}, "axis": {"values": [1,2,3,4,5,6,7,8,9,10,11,12], "labelExpr": "datum.value % 2 === 0 ? datum.label : ''", "title": null}},
  "y": {"field": "accuracy", "type": "quantitative", "scale": {"domain": [0.639, 0.777], "nice": false, "zero": false}, "axis": {"values": [0.65, 0.7, 0.75], "format": "~g", "title": null}},
  "color": {"field": "model", "type": "nominal"}
 },
 "layer": [{"mark": {"type": "line"}}, {"mark": {"type": "point"}}]},
{"title": {"text": "ml:BShift", "fontWeight": "normal", "fontSize": 17.3}, "transform": [{"filter": {"field": "panel", "equal": "ml:BShift"}}],
 "encoding": {
  "x": {"field": "layer", "type": "quantitative", "scale": {"domain": [-0.15, 13.05], "nice": false, "zero": false}, "axis": {"values": [1,2,3,4,5,6,7,8,9,10,11,12], "labelExpr": "datum.value % 2 === 0 ? datum.label : ''", "title": "Layer-Depth", "titleX": 177, "titleY": 38, "titleBaseline": "alphabetic", "titleAlign": "center"}},
  "y": {"field": "accuracy", "type": "quantitative", "scale": {"domain": [0.614, 0.798], "nice": false, "zero": false}, "axis": {"values": [0.65, 0.7, 0.75], "format": "~g", "title": null}},
  "color": {"field": "model", "type": "nominal"}
 },
 "layer": [{"mark": {"type": "line"}}, {"mark": {"type": "point"}}]},
{"title": {"text": "mr:BShift", "fontWeight": "normal", "fontSize": 17.3}, "transform": [{"filter": {"field": "panel", "equal": "mr:BShift"}}],
 "encoding": {
  "x": {"field": "layer", "type": "quantitative", "scale": {"domain": [-0.15, 13.05], "nice": false, "zero": false}, "axis": {"values": [1,2,3,4,5,6,7,8,9,10,11,12], "labelExpr": "datum.value % 2 === 0 ? datum.label : ''", "title": null}},
  "y": {"field": "accuracy", "type": "quantitative", "scale": {"domain": [0.643, 0.821], "nice": false, "zero": false}, "axis": {"values": [0.65, 0.7, 0.75, 0.8], "format": "~g", "title": null}},
  "color": {"field": "model", "type": "nominal"}
 },
 "layer": [{"mark": {"type": "line"}}, {"mark": {"type": "point"}}]},
{"title": {"text": "te:BShift", "fontWeight": "normal", "fontSize": 17.3}, "transform": [{"filter": {"field": "panel", "equal": "te:BShift"}}],
 "encoding": {
  "x": {"field": "layer", "type": "quantitative", "scale": {"domain": [-0.15, 13.05], "nice": false, "zero": false}, "axis": {"values": [1,2,3,4,5,6,7,8,9,10,11,12], "labelExpr": "datum.value % 2 === 0 ? datum.label : ''", "title": null}},
  "y": {"field": "accuracy", "type": "quantitative", "scale": {"domain": [0.552, 0.742], "nice": false, "zero": false}, "axis": {"values": [0.6, 0.65, 0.7], "format": "~g", "title": null}},
  "color": {"field": "model", "type": "nominal"}
 },
 "layer": [{"mark": {"type": "line"}}, {"mark": {"type": "point"}}]},
{"title": {"text": "ur:BShift", "fontWeight": "normal", "fontSize": 17.3}, "transform": [{"filter": {"field": "panel", "equal": "ur:BShift"}}],
 "encoding": {
  "x": {"field": "layer", "type": "quantitative", "scale": {"domain": [-0.15, 13.05], "nice": false, "zero": false}, "axis": {"values": [1,2,3,4,5,6,7,8,9,10,11,12], "labelExpr": "datum.value % 2 === 0 ? datum.label : ''", "title": null}},
  "y": {"field": "accuracy", "type": "quantitative", "scale": {"domain": [0.544, 0.744], "nice": false, "zero": false}, "axis": {"values": [0.55, 0.6, 0.65, 0.7], "format": "~g", "title": null}},
  "color": {"field": "model", "type": "nominal"}
 },
 "layer": [{"mark": {"type": "line"}}, {"mark": {"type": "point"}}]}
],
"config": {
  "font": "DejaVu Sans",
  "view": {"stroke": "black", "strokeWidth": 2, "continuousWidth": 145, "continuousHeight": 105},
  "axis": {"labelFont": "DejaVu Sans", "labelFontSize": 14.7, "labelColor": "black", "ticks": false, "tickSize": 0, "domain": false, "grid": true, "titleFont": "DejaVu Sans", "titleFontSize": 18.7, "titleFontWeight": "normal", "titleColor": "black", "labelOverlap": false, "labelFlush": false},
  "axisX": {"gridColor": "#d2d2d2", "gridWidth": 1.3, "labelPadding": 8},
  "axisY": {"gridColor": "#b0b0b0", "gridWidth": 1.3, "labelPadding": 6},
  "title": {"fontSize": 17.3, "fontWeight": "normal", "font": "DejaVu Sans", "offset": 1, "baseline": "alphabetic", "frame": "group", "anchor": "middle", "color": "black"},
  "line": {"strokeWidth": 2.3},
  "point": {"filled": true, "size": 38, "opacity": 1}
}
}
